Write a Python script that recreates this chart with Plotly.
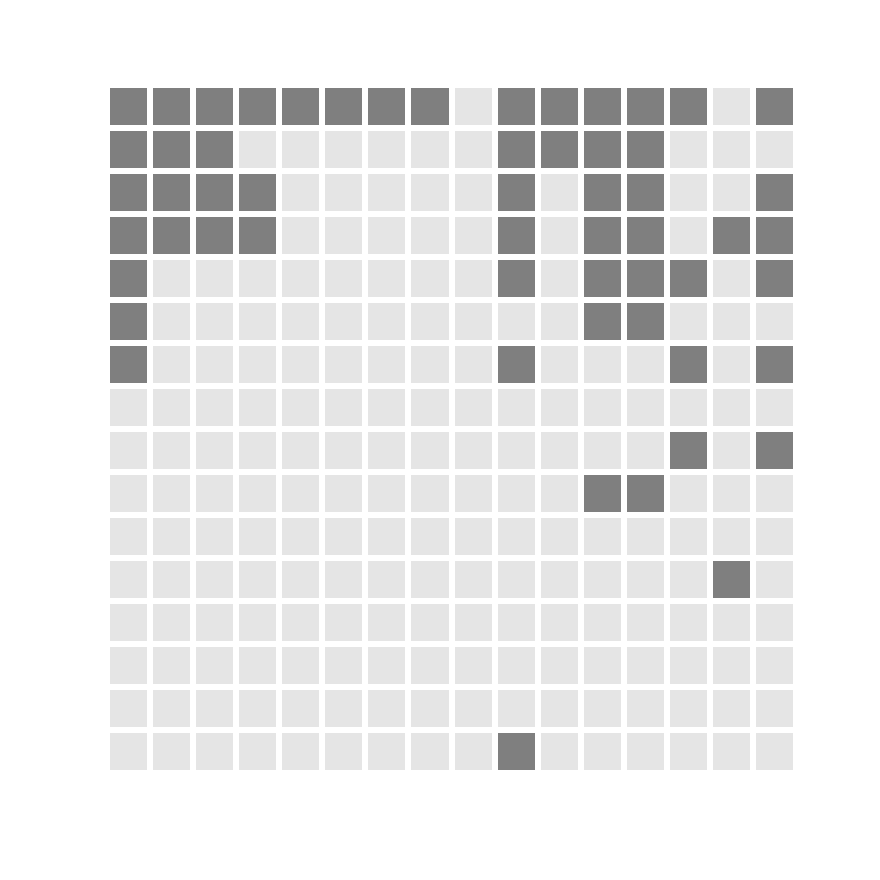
import plotly.graph_objects as go

rows = [f"r{i}" for i in range(1, 17)]
cols = [f"c{j}" for j in range(1, 17)]

grid = [
    "1111111101111101",
    "1110000001111000",
    "1111000001011001",
    "1111000001011011",
    "1000000001011101",
    "1000000000011000",
    "1000000001000101",
    "0000000000000000",
    "0000000000000101",
    "0000000000011000",
    "0000000000000000",
    "0000000000000010",
    "0000000000000000",
    "0000000000000000",
    "0000000000000000",
    "0000000001000000",
]
z = [[int(ch) for ch in row] for row in grid]

fig = go.Figure(go.Heatmap(
    z=z, x=cols, y=rows,
    colorscale=[[0, "#e5e5e5"], [0.5, "#e5e5e5"], [0.5, "#7f7f7f"], [1, "#7f7f7f"]],
    zmin=0, zmax=1, showscale=False, xgap=6, ygap=6,
    hoverinfo="skip",
))
fig.update_layout(
    width=880, height=880,
    margin=dict(l=107, r=84, t=85, b=107),
    paper_bgcolor="white", plot_bgcolor="white",
    xaxis=dict(visible=False, showgrid=False, zeroline=False),
    yaxis=dict(visible=False, showgrid=False, zeroline=False, autorange="reversed"),
)
fig.write_html("out.html")
